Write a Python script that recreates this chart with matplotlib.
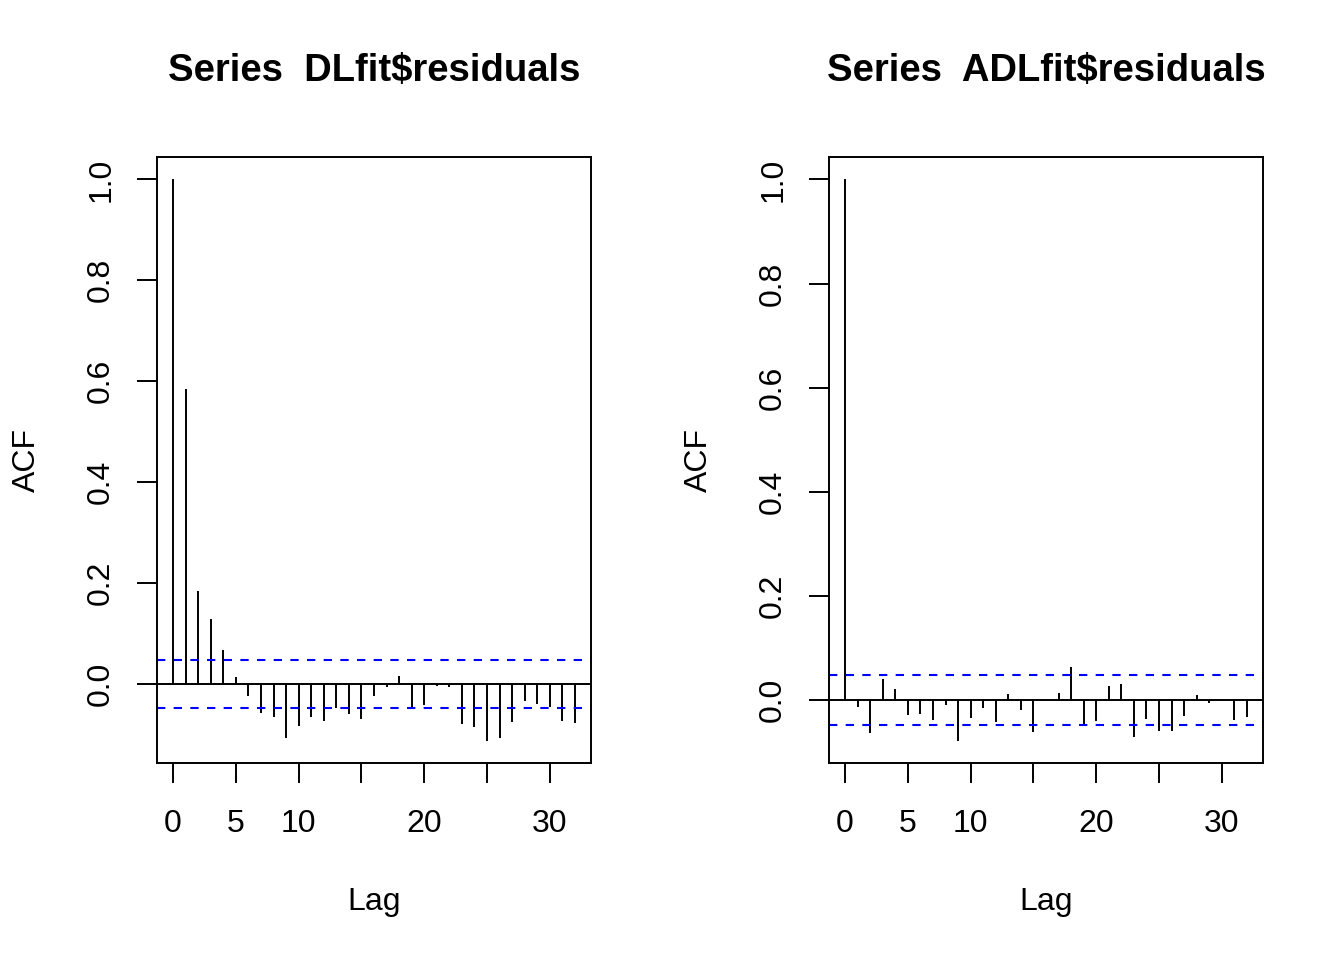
import numpy as np
import matplotlib.pyplot as plt

plt.rcParams['font.family'] = ['Liberation Sans', 'DejaVu Sans']

lags = np.arange(33)
acf_dl = [1.0, 0.585, 0.184, 0.128, 0.067, 0.014, -0.023, -0.058, -0.065, -0.107,
          -0.083, -0.065, -0.073, -0.047, -0.059, -0.069, -0.023, -0.006, 0.016, -0.047,
          -0.042, -0.004, -0.006, -0.080, -0.086, -0.112, -0.106, -0.076, -0.034, -0.039,
          -0.046, -0.074, -0.078]
acf_adl = [1.0, -0.014, -0.064, 0.040, 0.021, -0.029, -0.027, -0.039, -0.009, -0.078,
           -0.034, -0.015, -0.043, 0.011, -0.020, -0.061, 0.002, 0.013, 0.063, -0.048,
           -0.040, 0.027, 0.031, -0.071, -0.036, -0.059, -0.060, -0.031, 0.009, -0.005,
           -0.002, -0.038, -0.032]
conf = 0.048
titles = ["Series  DLfit\\$residuals", "Series  ADLfit\\$residuals"]
xticks = [0, 5, 10, 15, 20, 25, 30]
xlabels = ["0", "5", "10", "", "20", "", "30"]
yticks = [0.0, 0.2, 0.4, 0.6, 0.8, 1.0]

fig = plt.figure(figsize=(13.44, 9.6), dpi=100)
lefts = [157 / 1344, 829 / 1344]

for left, acf, title in zip(lefts, [acf_dl, acf_adl], titles):
    ax = fig.add_axes([left, 197 / 960, 434 / 1344, 606 / 960])
    acf = np.array(acf)
    ax.vlines(lags, 0, acf, color='black', lw=1.4)
    ax.axhline(0, color='black', lw=1.4)
    ax.axhline(conf, color='blue', lw=1.5, ls=(0, (4, 4)))
    ax.axhline(-conf, color='blue', lw=1.5, ls=(0, (4, 4)))
    lo = min(acf.min(), -conf)
    hi = max(acf.max(), conf)
    r = hi - lo
    ax.set_ylim(lo - 0.04 * r, hi + 0.04 * r)
    ax.set_xlim(-0.04 * 32, 32 * 1.04)
    ax.set_xticks(xticks)
    ax.set_xticklabels(xlabels)
    ax.set_yticks(yticks)
    ax.set_yticklabels([f"{v:.1f}" for v in yticks], rotation=90, va='center')
    ax.tick_params(labelsize=23, length=14.4, width=1.4)
    ax.tick_params(axis='x', pad=19)
    ax.tick_params(axis='y', pad=15)
    for s in ax.spines.values():
        s.set_linewidth(1.4)
    ax.set_xlabel("Lag", fontsize=23, labelpad=34)
    ax.set_ylabel("ACF", fontsize=23, labelpad=32)
    ax.set_title(title, fontsize=27.5, fontweight='bold', pad=55)

fig.savefig("out.png", dpi=100)
